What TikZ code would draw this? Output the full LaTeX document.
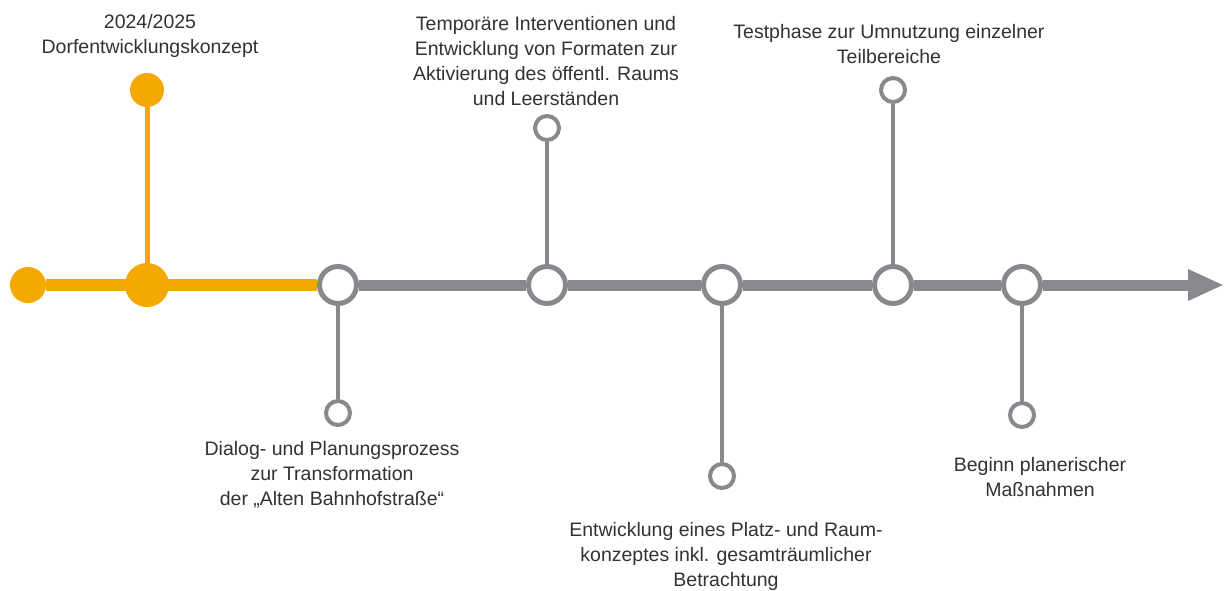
\documentclass[tikz,border=0pt]{standalone}
\usepackage{fontspec}
\setmainfont{Liberation Sans}
\usetikzlibrary{arrows.meta,backgrounds}
\definecolor{tlorange}{RGB}{245,168,0}
\definecolor{tlgray}{RGB}{136,137,141}
\definecolor{tltext}{RGB}{50,50,54}
\tikzset{
  lbl/.style={align=center,inner sep=0pt,text=tltext,font=\fontsize{19.5}{25}\selectfont},
  odot/.style={circle,fill=tlorange,draw=none,inner sep=0pt,minimum size=#1},
  bigring/.style={circle,draw=tlgray,line width=5pt,fill=white,inner sep=0pt,minimum size=37pt},
  smallring/.style={circle,draw=tlgray,line width=4pt,fill=white,inner sep=0pt,minimum size=24pt},
  mainline/.style={draw=tlgray,line width=11pt},
  orline/.style={draw=tlorange,line width=12pt},
  orstem/.style={draw=tlorange,line width=5pt},
  stem/.style={draw=tlgray,line width=4pt}
}
\begin{document}
\begin{tikzpicture}[x=1pt,y=-1pt]
\useasboundingbox (0,0) rectangle (1226,590);
% orange dots
\node[odot=36pt] (o0) at (28,285) {};
\node[odot=44pt] (o1) at (147,285) {};
\node[odot=34pt] (o1t) at (147,90) {};
% main rings
\node[bigring] (g1) at (338,285) {};
\node[bigring] (g2) at (547,285) {};
\node[bigring] (g3) at (722,285) {};
\node[bigring] (g4) at (893,285) {};
\node[bigring] (g5) at (1022,285) {};
\coordinate (tip) at (1224,285);
% small rings
\node[smallring] (s1) at (338,413) {};
\node[smallring] (s2) at (547,128) {};
\node[smallring] (s3) at (722,476) {};
\node[smallring] (s4) at (893,90) {};
\node[smallring] (s5) at (1022,415) {};
% connectors
\begin{pgfonlayer}{background}
\draw[orline] (o0) -- (g1);
\draw[orstem] (o1) -- (o1t);
\draw[mainline] (g1) -- (g2);
\draw[mainline] (g2) -- (g3);
\draw[mainline] (g3) -- (g4);
\draw[mainline] (g4) -- (g5);
\draw[mainline,-{Triangle[length=36pt,width=29pt]}] (g5) -- (tip);
\draw[stem] (g1) -- (s1);
\draw[stem] (g2) -- (s2);
\draw[stem] (g3) -- (s3);
\draw[stem] (g4) -- (s4);
\draw[stem] (g5) -- (s5);
\end{pgfonlayer}
% labels
\node[lbl] (t1) at (150,36) {2024/2025\\Dorfentwicklungskonzept};
\node[lbl] (t2) at (546,61) {Temporäre Interventionen und\\Entwicklung von Formaten zur\\Aktivierung des öffentl. Raums\\und Leerständen};
\node[lbl] (t3) at (889,44) {Testphase zur Umnutzung einzelner\\Teilbereiche};
\node[lbl] (t4) at (332,475) {Dialog- und Planungsprozess\\zur Transformation\\der „Alten Bahnhofstraße“};
\node[lbl] (t5) at (726,556) {Entwicklung eines Platz- und Raum-\\konzeptes inkl. gesamträumlicher\\Betrachtung};
\node[lbl] (t6) at (1040,477) {Beginn planerischer\\Maßnahmen};
\end{tikzpicture}
\end{document}
